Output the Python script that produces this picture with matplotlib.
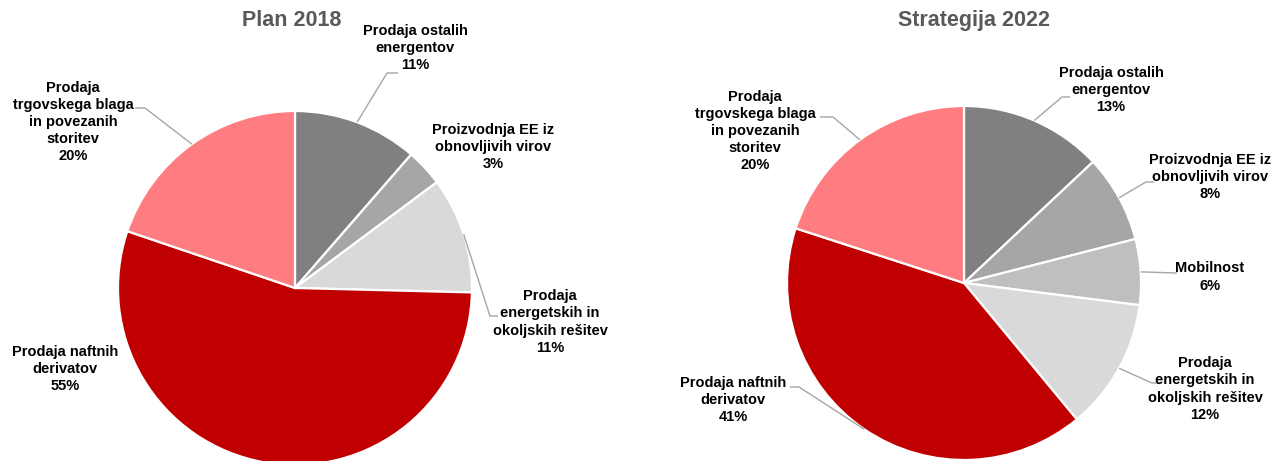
import matplotlib
matplotlib.use("Agg")
import matplotlib.pyplot as plt
import numpy as np

W, H = 1274, 461

# ---- data ----
plan_title = "Plan 2018"
plan_labels = ["Prodaja ostalih\nenergentov",
               "Proizvodnja EE iz\nobnovljivih virov",
               "Prodaja\nenergetskih in\nokoljskih rešitev",
               "Prodaja naftnih\nderivatov",
               "Prodaja\ntrgovskega blaga\nin povezanih\nstoritev"]
# shares (labels show them rounded)
plan_values = [11.4, 3.4, 10.6, 54.8, 19.8]

strat_title = "Strategija 2022"
strat_labels = ["Prodaja ostalih\nenergentov",
                "Proizvodnja EE iz\nobnovljivih virov",
                "Mobilnost",
                "Prodaja\nenergetskih in\nokoljskih rešitev",
                "Prodaja naftnih\nderivatov",
                "Prodaja\ntrgovskega blaga\nin povezanih\nstoritev"]
strat_values = [13, 8, 6, 12, 41, 20]

# ---- styles / layout ----
plan_colors = ["#808080", "#A6A6A6", "#D9D9D9", "#C00000", "#FF7C80"]
strat_colors = ["#808080", "#A6A6A6", "#BFBFBF", "#D9D9D9", "#C00000", "#FF7C80"]

# pixel coordinates (x, y from top)
plan_geom = dict(center=(295, 288), radius=177, title_pos=(292, 21))
plan_text_pos = [(415, 48), (493, 147), (550, 322), (65, 369), (73, 122)]
plan_leaders = [[(387, 73), (398, 73)], None, [(490, 316), (498, 316)], None,
                [(145, 108), (135, 108)]]

strat_geom = dict(center=(964, 283), radius=177, title_pos=(974, 21))
strat_text_pos = [(1111, 90), (1210, 177), (1210, 277), (1205, 389), (733, 400), (755, 131)]
strat_leaders = [[(1062, 97), (1070, 97)], [(1146, 182), (1154, 182)], [(1177, 273)],
                 [(1152, 383), (1160, 383)], [(799, 387), (790, 387)],
                 [(833, 117), (820, 117)]]

FONT = "Liberation Sans"
plt.rcParams['font.family'] = [FONT, 'DejaVu Sans']

fig = plt.figure(figsize=(W / 100, H / 100), dpi=100)
ax = fig.add_axes([0, 0, 1, 1])


def py(y):
    return H - y


def draw_pie(values, labels, colors, geom, text_pos, leaders, title):
    cx, cy = geom["center"]
    r = geom["radius"]
    wedges, _ = ax.pie(values, colors=colors, startangle=90, counterclock=False,
                       center=(cx, py(cy)), radius=r,
                       wedgeprops=dict(edgecolor="white", linewidth=1.6))
    for w, lab, v, (tx, ty), ld in zip(wedges, labels, values, text_pos, leaders):
        ax.text(tx, py(ty), f"{lab}\n{v:.0f}%", ha="center", va="center",
                multialignment="center", fontsize=10.5, fontweight="bold",
                color="black", linespacing=1.28)
        if ld:
            mid = np.deg2rad((w.theta1 + w.theta2) / 2)
            sx = cx + r * np.cos(mid)
            sy = py(cy) + r * np.sin(mid)
            xs = [sx] + [p[0] for p in ld]
            ys = [sy] + [py(p[1]) for p in ld]
            ax.plot(xs, ys, color="#A6A6A6", lw=1.0, solid_capstyle="butt")
    tx, ty = geom["title_pos"]
    ax.text(tx, py(ty), title, ha="center", va="center", fontsize=15.5,
            fontweight="bold", color="#595959")


draw_pie(plan_values, plan_labels, plan_colors, plan_geom, plan_text_pos, plan_leaders, plan_title)
draw_pie(strat_values, strat_labels, strat_colors, strat_geom, strat_text_pos, strat_leaders, strat_title)

ax.set_aspect("auto")
ax.set_xlim(0, W)
ax.set_ylim(0, H)
ax.axis("off")

fig.savefig("out.png", dpi=100, facecolor="white")
